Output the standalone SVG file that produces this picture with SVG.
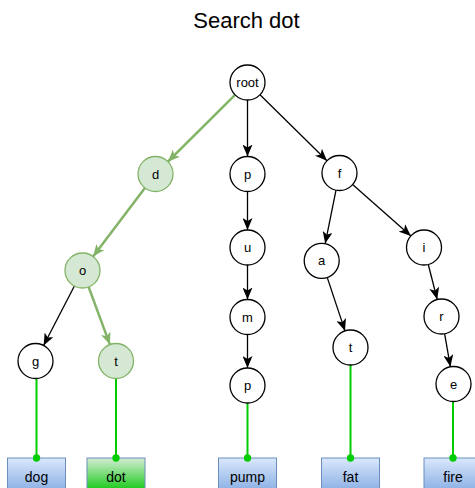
<svg xmlns="http://www.w3.org/2000/svg" width="475" height="488" viewBox="0 0 475 488">
  <style>
    .node circle { fill: #ffffff; stroke: #000000; stroke-width: 1.3; }
    .node.hit circle { fill: #d5e8d4; stroke: #82b366; }
    .node text { font-family: "Liberation Sans", Arial, sans-serif; font-size: 13px; fill: #000000; text-anchor: middle; dominant-baseline: central; }
    .leaf rect { stroke: #6c8ebf; stroke-width: 1; fill: url(#blueGrad); }
    .leaf.hit rect { fill: url(#greenGrad); }
    .leaf text { font-family: "Liberation Sans", Arial, sans-serif; font-size: 14px; fill: #000000; text-anchor: middle; }
    .edge { fill: none; stroke: #000000; stroke-width: 1.3; marker-end: url(#arrowBlack); }
    .edge.hit { stroke: #82b366; stroke-width: 2.5; marker-end: url(#arrowGreen); }
    .link { fill: none; stroke: #00cc00; stroke-width: 2; marker-end: url(#dotGreen); }
    .title { font-family: "Liberation Sans", Arial, sans-serif; font-size: 22px; fill: #000000; text-anchor: middle; }
  </style>
  <defs>
    <linearGradient id="blueGrad" x1="0" y1="0" x2="0" y2="1">
      <stop offset="0" stop-color="#dae8fc"/>
      <stop offset="1" stop-color="#7ea6e0"/>
    </linearGradient>
    <linearGradient id="greenGrad" x1="0" y1="0" x2="0" y2="1">
      <stop offset="0" stop-color="#d5ecd5"/>
      <stop offset="0.8" stop-color="#22cc22"/>
      <stop offset="1" stop-color="#22cc22"/>
    </linearGradient>
    <marker id="arrowBlack" markerUnits="userSpaceOnUse" viewBox="0 0 12 10" refX="12" refY="5" markerWidth="12" markerHeight="10" orient="auto">
      <path d="M0,0 L12,5 L0,10 L3,5 Z" fill="#000000"/>
    </marker>
    <marker id="arrowGreen" markerUnits="userSpaceOnUse" viewBox="0 0 12 10" refX="12" refY="5" markerWidth="12" markerHeight="10" orient="auto">
      <path d="M0,0 L12,5 L0,10 L3,5 Z" fill="#82b366"/>
    </marker>
    <marker id="dotGreen" markerUnits="userSpaceOnUse" viewBox="0 0 8 8" refX="4" refY="4" markerWidth="8" markerHeight="8" orient="auto">
      <circle cx="4" cy="4" r="3.7" fill="#00cc00"/>
    </marker>
  </defs>

  <text class="title" x="246.5" y="28">Search dot</text>

  <!-- word leaves (drawn first so the link dots sit on top of them) -->
  <g id="w-dog" class="leaf"><rect x="7.5" y="458" width="58" height="38"/><text x="36.5" y="481.5">dog</text></g>
  <g id="w-dot" class="leaf hit"><rect x="87" y="458" width="58" height="38"/><text x="116" y="481.5">dot</text></g>
  <g id="w-pump" class="leaf"><rect x="218.5" y="458" width="58" height="38"/><text x="247.5" y="481.5">pump</text></g>
  <g id="w-fat" class="leaf"><rect x="321.5" y="458" width="58" height="38"/><text x="350.5" y="481.5">fat</text></g>
  <g id="w-fire" class="leaf"><rect x="424" y="458" width="58" height="38"/><text x="453" y="481.5">fire</text></g>

  <!-- trie edges and leaf links -->
  <g id="connectors">
    <path class="edge hit" d="M235.1,94.8 L167.9,161.7"/>
    <path class="edge" d="M247.5,100 L247.5,156.5"/>
    <path class="edge" d="M260,94.8 L327,160.7"/>
    <path class="edge hit" d="M144.9,188 L93.1,256.6"/>
    <path class="edge" d="M74.4,286 L43.6,345.5"/>
    <path class="edge hit" d="M88.6,286.9 L109.9,344.6"/>
    <path class="edge" d="M247.5,191.5 L247.5,230"/>
    <path class="edge" d="M247.5,265 L247.5,299.5"/>
    <path class="edge" d="M247.5,334.5 L247.5,368"/>
    <path class="edge" d="M336,190.2 L325.2,243.6"/>
    <path class="edge" d="M352.6,184.6 L410.9,235.9"/>
    <path class="edge" d="M327.2,277.4 L345,330.9"/>
    <path class="edge" d="M428.3,264.5 L437.2,299.5"/>
    <path class="edge" d="M444.6,333.7 L450.4,366.8"/>

    <path class="link" d="M36.5,378.5 L36.5,458"/>
    <path class="link" d="M116,378.5 L116,458"/>
    <path class="link" d="M247.5,403 L247.5,458"/>
    <path class="link" d="M350.5,365 L350.5,458"/>
    <path class="link" d="M453,401.5 L453,458"/>
  </g>

  <!-- trie nodes -->
  <g id="n-root" class="node"><circle cx="247.5" cy="82.5" r="17.5"/><text x="247.5" y="82.5" font-size="12">root</text></g>
  <g id="n-d" class="node hit"><circle cx="155.5" cy="174" r="17.5"/><text x="155.5" y="174">d</text></g>
  <g id="n-p" class="node"><circle cx="247.5" cy="174" r="17.5"/><text x="247.5" y="174">p</text></g>
  <g id="n-f" class="node"><circle cx="339.5" cy="173" r="17.5"/><text x="339.5" y="173">f</text></g>
  <g id="n-do" class="node hit"><circle cx="82.5" cy="270.5" r="17.5"/><text x="82.5" y="270.5">o</text></g>
  <g id="n-dog" class="node"><circle cx="35.5" cy="361" r="17.5"/><text x="35.5" y="361">g</text></g>
  <g id="n-dot" class="node hit"><circle cx="116" cy="361" r="17.5"/><text x="116" y="361">t</text></g>
  <g id="n-pu" class="node"><circle cx="247.5" cy="247.5" r="17.5"/><text x="247.5" y="247.5">u</text></g>
  <g id="n-pum" class="node"><circle cx="247.5" cy="317" r="17.5"/><text x="247.5" y="317">m</text></g>
  <g id="n-pump" class="node"><circle cx="247.5" cy="385.5" r="17.5"/><text x="247.5" y="385.5">p</text></g>
  <g id="n-fa" class="node"><circle cx="321.7" cy="260.8" r="17.5"/><text x="321.7" y="260.8">a</text></g>
  <g id="n-fat" class="node"><circle cx="350.5" cy="347.5" r="17.5"/><text x="350.5" y="347.5">t</text></g>
  <g id="n-fi" class="node"><circle cx="424" cy="247.5" r="17.5"/><text x="424" y="247.5">i</text></g>
  <g id="n-fir" class="node"><circle cx="441.5" cy="316.5" r="17.5"/><text x="441.5" y="316.5">r</text></g>
  <g id="n-fire" class="node"><circle cx="453.5" cy="384" r="17.5"/><text x="453.5" y="384">e</text></g>
</svg>
